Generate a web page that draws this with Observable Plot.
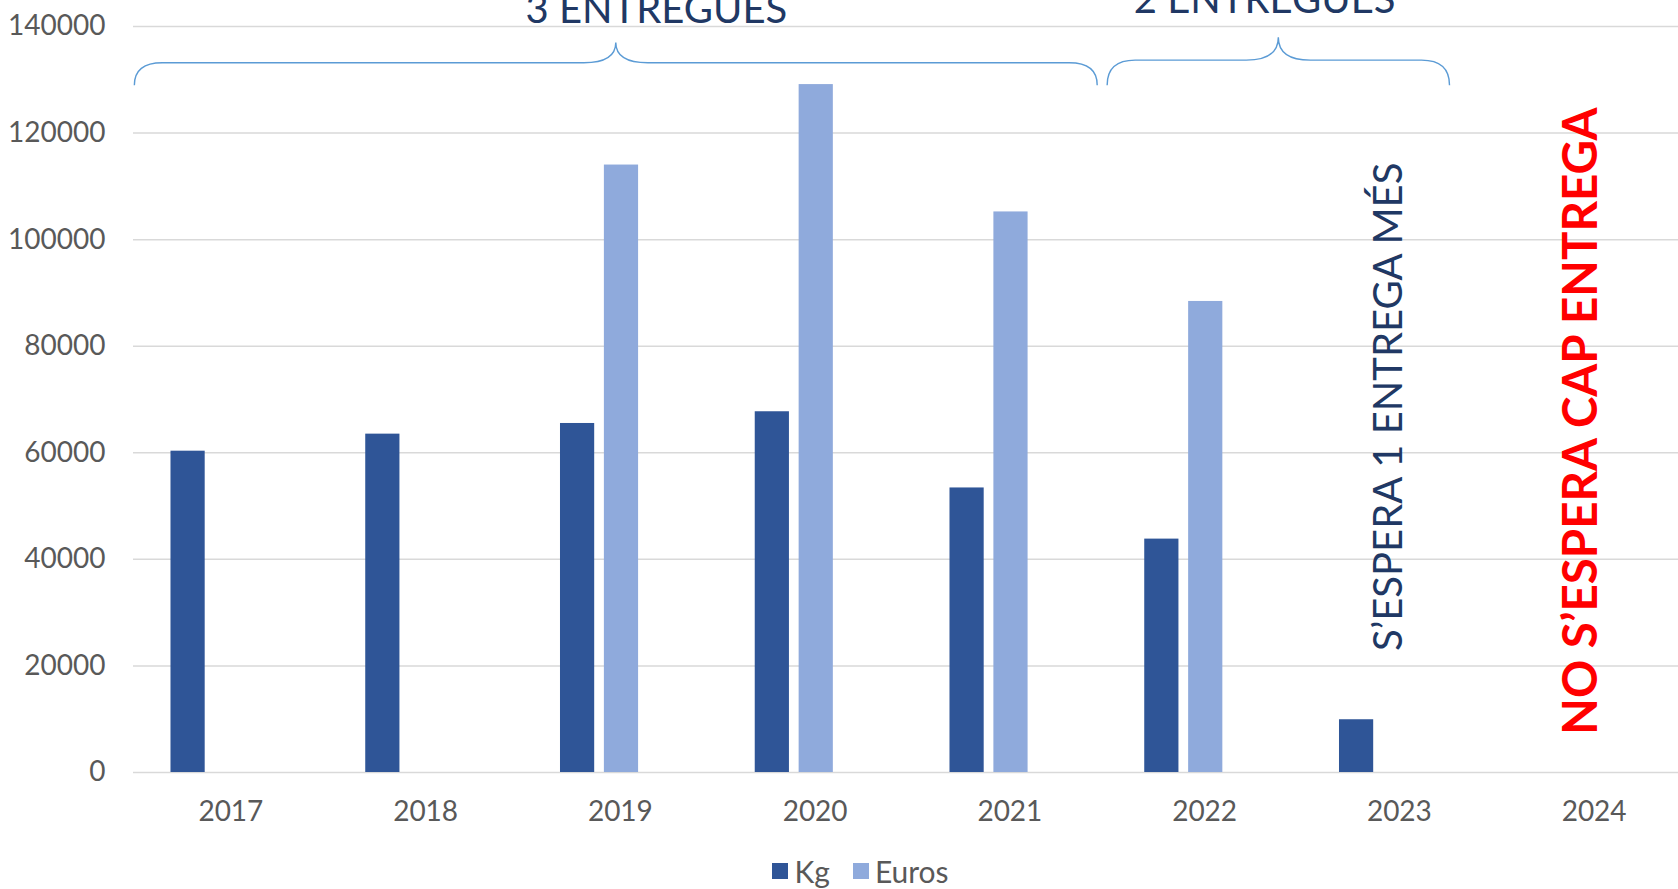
<!DOCTYPE html>
<html><head><meta charset="utf-8">
<script src="https://cdn.jsdelivr.net/npm/d3@7"></script>
<script src="https://cdn.jsdelivr.net/npm/@observablehq/plot@0.6"></script>
<style>
body{margin:0;background:#fff;}
#chart svg{display:block;}
.lg-swatches{font-family:Lato,sans-serif !important;font-size:30px !important;color:#595959 !important;margin:0 !important;}
.lg-swatch{margin-right:23px !important;}
.lg-swatch > svg{margin-right:6px !important;}
</style></head><body>
<div id="chart"></div>
<div id="legend" style="display:flex;justify-content:center;padding-left:66px;margin-top:-2px;width:1678px;box-sizing:border-box;"></div>
<script>
const years = ["2017","2018","2019","2020","2021","2022","2023","2024"];
const kg = [60300, 63500, 65500, 67700, 53400, 43800, 9900, null];
const euros = [null, null, 114000, 129100, 105200, 88400, null, null];
const series = ["Kg", "Euros"];
const colors = ["#2F5597", "#8FAADC"];
const yTicks = [0, 20000, 40000, 60000, 80000, 100000, 120000, 140000];
const braces = [
  {from: "2017", to: "2021", labelAt: "2019", label: "3 ENTREGUES"},
  {from: "2022", to: "2023", labelAt: "2022", label: "2 ENTREGUES"}
];
const notes = [
  {year: "2023", text: "S’ESPERA 1 ENTREGA MÉS"},
  {year: "2024", text: "NO S’ESPERA CAP ENTREGA"}
];

const W = 1678, H = 855, ML = 133, MT = 26, MB = 83;
const xRange = [133, 1691];
const bw = (xRange[1] - xRange[0]) / years.length;
const barW = 0.1756 * bw, lead = 0.1925 * bw, pitch = 0.2254 * bw;

const rows = (vals, s) => years.map((year, i) => ({year, series: s, value: vals[i]})).filter(d => d.value != null);
const kgData = rows(kg, series[0]);
const euroData = rows(euros, series[1]);

const braceShape = {
  "3 ENTREGUES": {start: 0.007, end: 0.951, yEnd: 128900, yMid: 133100, yTip: 136900},
  "2 ENTREGUES": {start: 0.002, end: 0.76, yEnd: 128900, yMid: 133600, yTip: 137900}
};

function braceMark(index, scales) {
  const x = scales.x, y = scales.y;
  const g = d3.create("svg:g").attr("fill", "none").attr("stroke", "#5B9BD5").attr("stroke-width", 1.4);
  const step = x(years[1]) - x(years[0]);
  for (const b of braces) {
    const s = braceShape[b.label];
    const x0 = x(b.from) + s.start * step, x1 = x(b.to) + s.end * step, xt = (x0 + x1) / 2;
    const yE = y(s.yEnd), yM = y(s.yMid), yT = y(s.yTip);
    const r = 28, rt = 32;
    g.append("path").attr("d",
      `M${x0},${yE}Q${x0},${yM} ${x0 + r},${yM}L${xt - rt},${yM}Q${xt},${yM} ${xt},${yT}` +
      `Q${xt},${yM} ${xt + rt},${yM}L${x1 - r},${yM}Q${x1},${yM} ${x1},${yE}`);
  }
  return g.node();
}

const chart = Plot.plot({
  width: W, height: H,
  marginLeft: ML, marginRight: 0, marginTop: MT, marginBottom: MB,
  style: {fontFamily: "Lato, sans-serif", fontSize: "28px", color: "#595959", background: "#fff"},
  x: {type: "band", domain: years, range: xRange, padding: 0, round: false, label: null, tickSize: 0, tickPadding: 29},
  y: {domain: [0, 140000], ticks: yTicks, tickFormat: d => String(d), label: null, tickSize: 0, tickPadding: 28},
  marks: [
    Plot.ruleY(yTicks, {stroke: "#D9D9D9", strokeWidth: 1.5}),
    Plot.barY(kgData, {x: "year", y: "value", fill: colors[0], insetLeft: lead, insetRight: bw - lead - barW}),
    Plot.barY(euroData, {x: "year", y: "value", fill: colors[1], insetLeft: lead + pitch, insetRight: bw - lead - pitch - barW}),
    braceMark,
    Plot.text([braces[0]], {x: "labelAt", y: 140600, text: "label", dx: 36, lineAnchor: "bottom", fontSize: 40, fill: "#203864"}),
    Plot.text([braces[1]], {x: "labelAt", y: 142600, text: "label", dx: 60, lineAnchor: "bottom", fontSize: 40, fill: "#203864"}),
    Plot.text([notes[0]], {x: "year", y: 22800, text: "text", rotate: -90, textAnchor: "start", lineAnchor: "middle", dx: -10, fontSize: 40, fill: "#203864"}),
    Plot.text([notes[1]], {x: "year", y: 7100, text: "text", rotate: -90, textAnchor: "start", lineAnchor: "middle", dx: -12, fontSize: 47.5, fontWeight: "bold", fill: "#FF0000"})
  ]
});
document.getElementById("chart").appendChild(chart);

const legend = Plot.legend({color: {type: "ordinal", domain: series, range: colors}, swatchSize: 16, className: "lg"});
document.getElementById("legend").appendChild(legend);
</script>
</body></html>
